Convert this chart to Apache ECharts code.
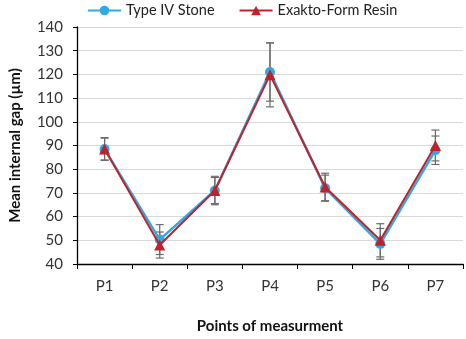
<!DOCTYPE html>
<html><head><meta charset="utf-8">
<script src="https://cdn.jsdelivr.net/npm/echarts@6/dist/echarts.min.js"></script>
<style>html,body{margin:0;padding:0;background:#fff}#c{width:466px;height:339px}</style>
</head><body><div id="c"></div>
<script>
var categories = ['P1','P2','P3','P4','P5','P6','P7'];
var stoneMean = [88.5, 50.3, 71, 121, 72, 48.5, 88];
var stoneErr  = [4.8, 6.3, 6, 12.3, 5.5, 6.5, 6];
var resinMean = [88.5, 48, 71, 119.8, 72.5, 50, 90];
var resinErr  = [4.6, 5.5, 5.5, 13.5, 5.8, 7, 6.5];
var yTicks = {min: 40, max: 140, interval: 10};

function errData(mean, err){
  return mean.map(function(m,i){ return [i, m - err[i], m + err[i]]; });
}
function errRender(params, api){
  var x = api.value(0);
  var lo = api.coord([x, api.value(1)]);
  var hi = api.coord([x, api.value(2)]);
  var w = 4;
  var st = {stroke:'#6b6b6b', lineWidth:1.2};
  return {type:'group', children:[
    {type:'line', shape:{x1:lo[0],y1:lo[1],x2:hi[0],y2:hi[1]}, style:st},
    {type:'line', shape:{x1:lo[0]-w,y1:lo[1],x2:lo[0]+w,y2:lo[1]}, style:st},
    {type:'line', shape:{x1:hi[0]-w,y1:hi[1],x2:hi[0]+w,y2:hi[1]}, style:st}
  ]};
}
var font = 'Lato, "Open Sans", sans-serif';
var chart = echarts.init(document.getElementById('c'), null, {renderer:'canvas'});
chart.setOption({
  animation:false,
  textStyle:{fontFamily:font},
  legend:{
    top:-2, left:82, itemGap:24, itemWidth:33, itemHeight:12,
    textStyle:{fontSize:14.5, color:'#222', fontFamily:font},
    data:['Type IV Stone','Exakto-Form Resin']
  },
  grid:{left:74, right:3, top:27, bottom:71, containLabel:false},
  xAxis:{
    type:'category', data:categories, boundaryGap:true,
    name:'Points of measurment', nameLocation:'middle', nameGap:55,
    nameTextStyle:{fontSize:15, fontWeight:'bold', color:'#111', fontFamily:font},
    axisLine:{lineStyle:{color:'#000', width:1.3}},
    axisTick:{show:true, length:5, alignWithLabel:false, lineStyle:{color:'#000'}},
    axisLabel:{fontSize:15, color:'#333', margin:15, fontFamily:font},
    splitLine:{show:false}
  },
  yAxis:{
    type:'value', min:yTicks.min, max:yTicks.max, interval:yTicks.interval,
    name:'Mean internal gap (µm)', nameLocation:'middle', nameGap:54,
    nameTextStyle:{fontSize:15, fontWeight:'bold', color:'#111', fontFamily:font},
    axisLine:{show:true, lineStyle:{color:'#000', width:1.3}},
    axisTick:{show:true, length:4, lineStyle:{color:'#000'}},
    axisLabel:{fontSize:15, color:'#333', margin:14, fontFamily:font},
    splitLine:{show:true, lineStyle:{color:'#d9d9d9', width:1}}
  },
  series:[
    {type:'custom', name:'errStone', renderItem:errRender, data:errData(stoneMean, stoneErr), z:1, silent:true},
    {type:'custom', name:'errResin', renderItem:errRender, data:errData(resinMean, resinErr), z:1, silent:true},
    {type:'line', name:'Type IV Stone', data:stoneMean, symbol:'circle', symbolSize:10,
      itemStyle:{color:'#33a9e0'}, lineStyle:{color:'#33a9e0', width:2.5}, z:3},
    {type:'line', name:'Exakto-Form Resin', data:resinMean, symbol:'triangle', symbolSize:11,
      itemStyle:{color:'#c0222b'}, lineStyle:{color:'#c0222b', width:2}, z:4}
  ]
});
</script></body></html>
